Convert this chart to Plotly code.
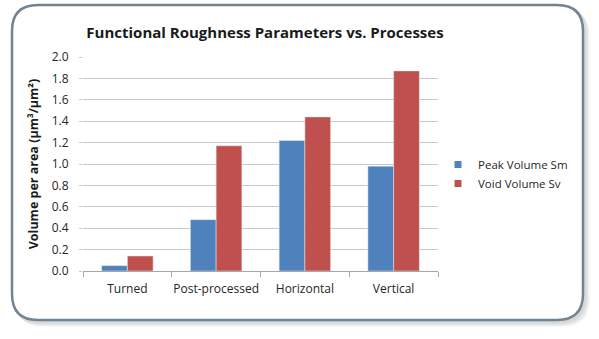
import plotly.graph_objects as go

categories = ["Turned", "Post-processed", "Horizontal", "Vertical"]
peak_sm = [0.05, 0.48, 1.22, 0.98]
void_sv = [0.14, 1.17, 1.44, 1.87]
y_ticks = [0.0, 0.2, 0.4, 0.6, 0.8, 1.0, 1.2, 1.4, 1.6, 1.8, 2.0]
series_names = ["Peak Volume Sm", "Void Volume Sv"]
series_colors = ["#4F81BD", "#C0504D"]

W, H = 599, 339
L, R, T, B = 83, 161, 57, 68
PW, PH = W - L - R, H - T - B

def px(x, y):
    return (x - L) / PW, (H - B - y) / PH

def rrect(x0, y0, x1, y1, r):
    def p(x, y):
        a, b = px(x, y)
        return f"{a:.5f},{b:.5f}"
    return (f"M {p(x0 + r, y0)} L {p(x1 - r, y0)} Q {p(x1, y0)} {p(x1, y0 + r)} "
            f"L {p(x1, y1 - r)} Q {p(x1, y1)} {p(x1 - r, y1)} "
            f"L {p(x0 + r, y1)} Q {p(x0, y1)} {p(x0, y1 - r)} "
            f"L {p(x0, y0 + r)} Q {p(x0, y0)} {p(x0 + r, y0)} Z")

font = "Open Sans, Liberation Sans, sans-serif"

fig = go.Figure()
for vals, name, col in zip([peak_sm, void_sv], series_names, series_colors):
    fig.add_bar(x=categories, y=vals, name=name, marker_color=col, showlegend=False)
for name, col in zip(series_names, series_colors):
    fig.add_scatter(x=[None], y=[None], mode="markers", name=name,
                    marker=dict(symbol="square", size=7, color=col))

shapes = []
for i, c in enumerate(["#f0f0f0", "#e4e4e4", "#d8d8d8"]):
    off = 5 - i * 1.5
    shapes.append(dict(type="path", xref="paper", yref="paper",
                       path=rrect(12 + off, 5 + off, 583 + off, 320 + off, 26),
                       line=dict(color=c, width=3), fillcolor="rgba(0,0,0,0)", layer="below"))
shapes.append(dict(type="path", xref="paper", yref="paper",
                   path=rrect(12, 5, 583, 320, 26),
                   line=dict(color="#728392", width=2.5), fillcolor="white", layer="below"))

fig.update_layout(
    width=W, height=H,
    margin=dict(l=L, r=R, t=T, b=B),
    paper_bgcolor="white", plot_bgcolor="rgba(0,0,0,0)",
    barmode="group", bargap=0.42, bargroupgap=0,
    font=dict(family=font, color="#404040", size=12),
    title=dict(text="<b>Functional Roughness Parameters vs. Processes</b>",
               x=265 / W, xanchor="center", y=1 - 33 / H, yanchor="middle",
               font=dict(size=15, color="#1a1a1a", family=font)),
    legend=dict(x=px(438, 0)[0], xanchor="left", y=px(0, 174)[1], yanchor="middle",
                font=dict(size=11.5, color="#262626"), bgcolor="rgba(0,0,0,0)",
                itemwidth=30, tracegroupgap=6),
    shapes=shapes,
    xaxis=dict(type="category", showline=True, linecolor="#a6a6a6", linewidth=1,
               ticks="outside", tickson="boundaries", ticklen=5, tickcolor="#a6a6a6",
               tickangle=0, showgrid=False, ticklabelstandoff=7,
               tickfont=dict(size=12, color="#262626")),
    yaxis=dict(range=[0, 2.0], tickvals=y_ticks, ticktext=[f"{v:.1f}" for v in y_ticks],
               showgrid=True, gridcolor="#c8c8c8", gridwidth=1, zeroline=False,
               ticks="outside", ticklen=3, tickcolor="#c8c8c8", showline=False,
               ticklabelstandoff=8,
               tickfont=dict(size=12, color="#262626"),
               title=dict(text="<b>Volume per area (µm³/µm²)</b>", standoff=10,
                          font=dict(size=12.5, color="#1a1a1a"))),
)

fig.write_html("out.html")
